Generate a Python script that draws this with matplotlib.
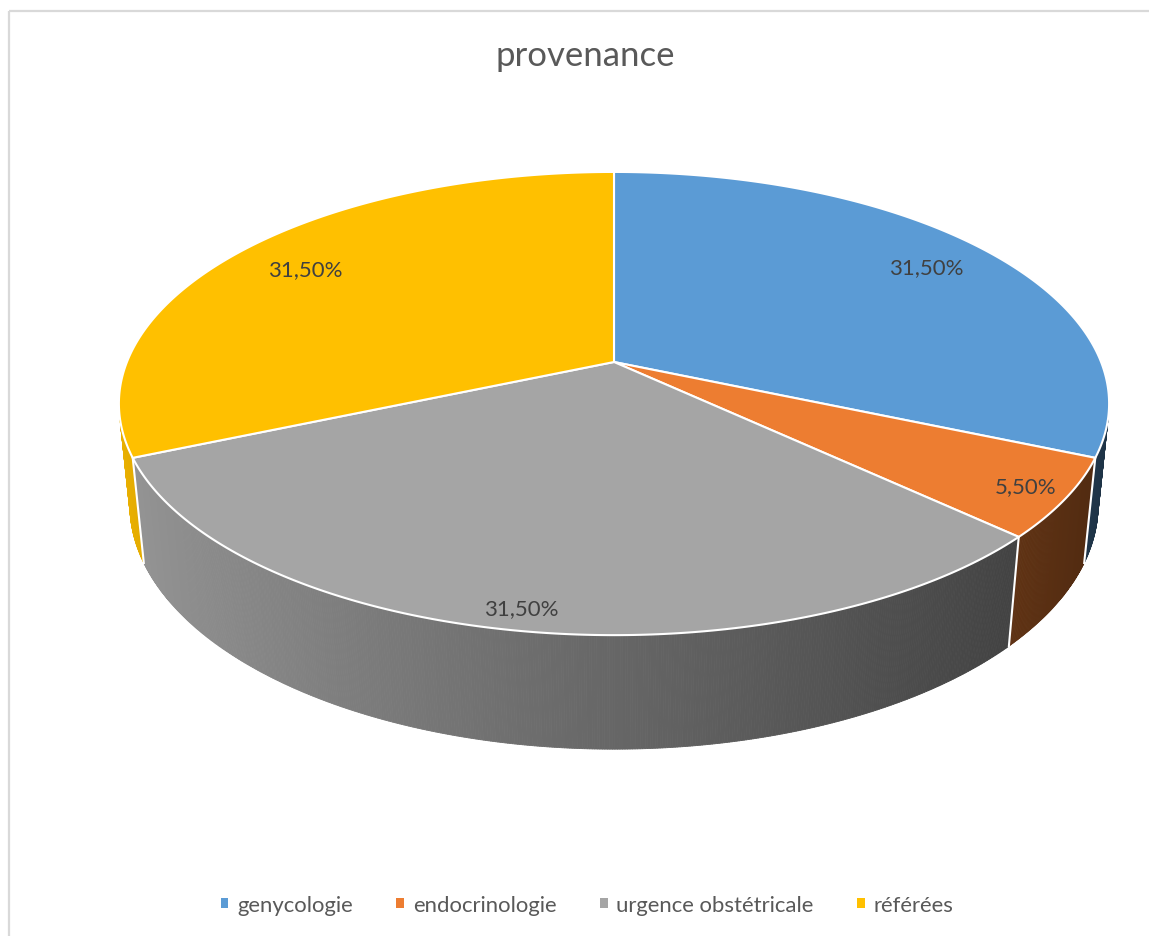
import numpy as np
import matplotlib
matplotlib.use("Agg")
import matplotlib.pyplot as plt
from matplotlib.patches import Polygon, Rectangle, Patch
from matplotlib.collections import PolyCollection
from matplotlib.colors import to_rgb

# ---- data -------------------------------------------------------------
title = "provenance"
categories = ["genycologie", "endocrinologie", "urgence obstétricale", "référées"]
values = [31.5, 5.5, 31.5, 31.5]
value_labels = ["31,50%", "5,50%", "31,50%", "31,50%"]
colors = ["#5B9BD5", "#ED7D31", "#A5A5A5", "#FFC000"]

# ---- figure in pixel units -------------------------------------------
W, H = 1149, 937
fig = plt.figure(figsize=(W / 100, H / 100), dpi=100)
ax = fig.add_axes([0, 0, 1, 1])
ax.set_xlim(0, W)
ax.set_ylim(H, 0)
ax.axis("off")

FONT = ["Lato", "DejaVu Sans"]

# ---- perspective camera for a 3D pie ---------------------------------
elev = np.deg2rad(27.4)
dist = 4.95
scale = 2411.0
thick = 0.236
cx0, cy0 = 614.0, 363.0
label_r = [0.83, 0.92, 0.93, 0.82]


def project(x, y, z):
    s, c = np.sin(elev), np.cos(elev)
    vx = np.asarray(x, float)
    vy = np.asarray(y, float) - dist * s
    vz = np.asarray(z, float) - dist * c
    px = vx
    py = vy * c - vz * s
    pz = -vy * s - vz * c
    return cx0 + scale * px / pz, cy0 - scale * py / pz


def rim(phi_deg, r=1.0, y=0.0):
    p = np.deg2rad(phi_deg)
    return project(r * np.sin(p), y * np.ones_like(p), -r * np.cos(p))


def side_visible(phi_deg):
    p = np.deg2rad(phi_deg)
    return -1.0 - dist * np.cos(elev) * np.cos(p) > 0


total = sum(values)
bounds = np.concatenate([[0.0], np.cumsum(values) / total * 360.0])

# ---- outer walls -------------------------------------------------------
for i, col in enumerate(colors):
    a0, a1 = bounds[i], bounds[i + 1]
    phis = np.linspace(a0, a1, int((a1 - a0) * 4) + 2)
    base = np.array(to_rgb(col))
    quads, fcs = [], []
    for p0, p1 in zip(phis[:-1], phis[1:]):
        pm = 0.5 * (p0 + p1)
        if not side_visible(pm):
            continue
        xt, yt = rim(np.array([p0, p1]))
        xb, yb = rim(np.array([p0, p1]), y=-thick)
        quads.append([(xt[0], yt[0]), (xt[1], yt[1]), (xb[1], yb[1]), (xb[0], yb[0])])
        f = 0.62 - 0.30 * np.sin(np.deg2rad(pm))
        fcs.append(np.clip(base * f, 0, 1))
    if quads:
        ax.add_collection(PolyCollection(quads, facecolors=fcs, edgecolors=fcs,
                                         linewidths=0.6, zorder=2))

# white seams where slices meet on the wall
for b in bounds:
    if side_visible(b):
        xt, yt = rim(np.array([b]))
        xb, yb = rim(np.array([b]), y=-thick)
        ax.plot([xt[0], xb[0]], [yt[0], yb[0]], color="white", lw=1.5, zorder=3)

# ---- top face ------------------------------------------------------------
cx, cy = project(0.0, 0.0, 0.0)
for i, col in enumerate(colors):
    a0, a1 = bounds[i], bounds[i + 1]
    phis = np.linspace(a0, a1, int((a1 - a0) * 3) + 2)
    xs, ys = rim(phis)
    pts = np.column_stack([np.r_[cx, xs], np.r_[cy, ys]])
    ax.add_patch(Polygon(pts, closed=True, facecolor=col, edgecolor="white",
                         linewidth=1.5, joinstyle="round", zorder=4))

# ---- value labels ----------------------------------------------------------
for i, lab in enumerate(value_labels):
    mid = 0.5 * (bounds[i] + bounds[i + 1])
    lx, ly = rim(np.array([mid]), r=label_r[i])
    ax.text(lx[0], ly[0], lab, ha="center", va="center", fontsize=16,
            color="#404040", family=FONT, zorder=5)

# ---- title, legend, frame ----------------------------------------------------
ax.text(585, 56, title, ha="center", va="center", fontsize=25,
        color="#595959", family=FONT)

handles = [Patch(facecolor=c, edgecolor="none") for c in colors]
ax.legend(handles, categories, loc="center", bbox_to_anchor=(587 / W, 1 - 906 / H),
          ncol=4, frameon=False, handlelength=0.36, handleheight=0.36,
          handletextpad=0.4, columnspacing=1.95,
          prop={"family": FONT, "size": 15.9}, labelcolor="#595959")

ax.add_patch(Rectangle((9, 12), 1160, 940, facecolor="none", edgecolor="#d9d9d9",
                       linewidth=1.6, zorder=0))

fig.savefig("out.png", dpi=100, facecolor="white")
